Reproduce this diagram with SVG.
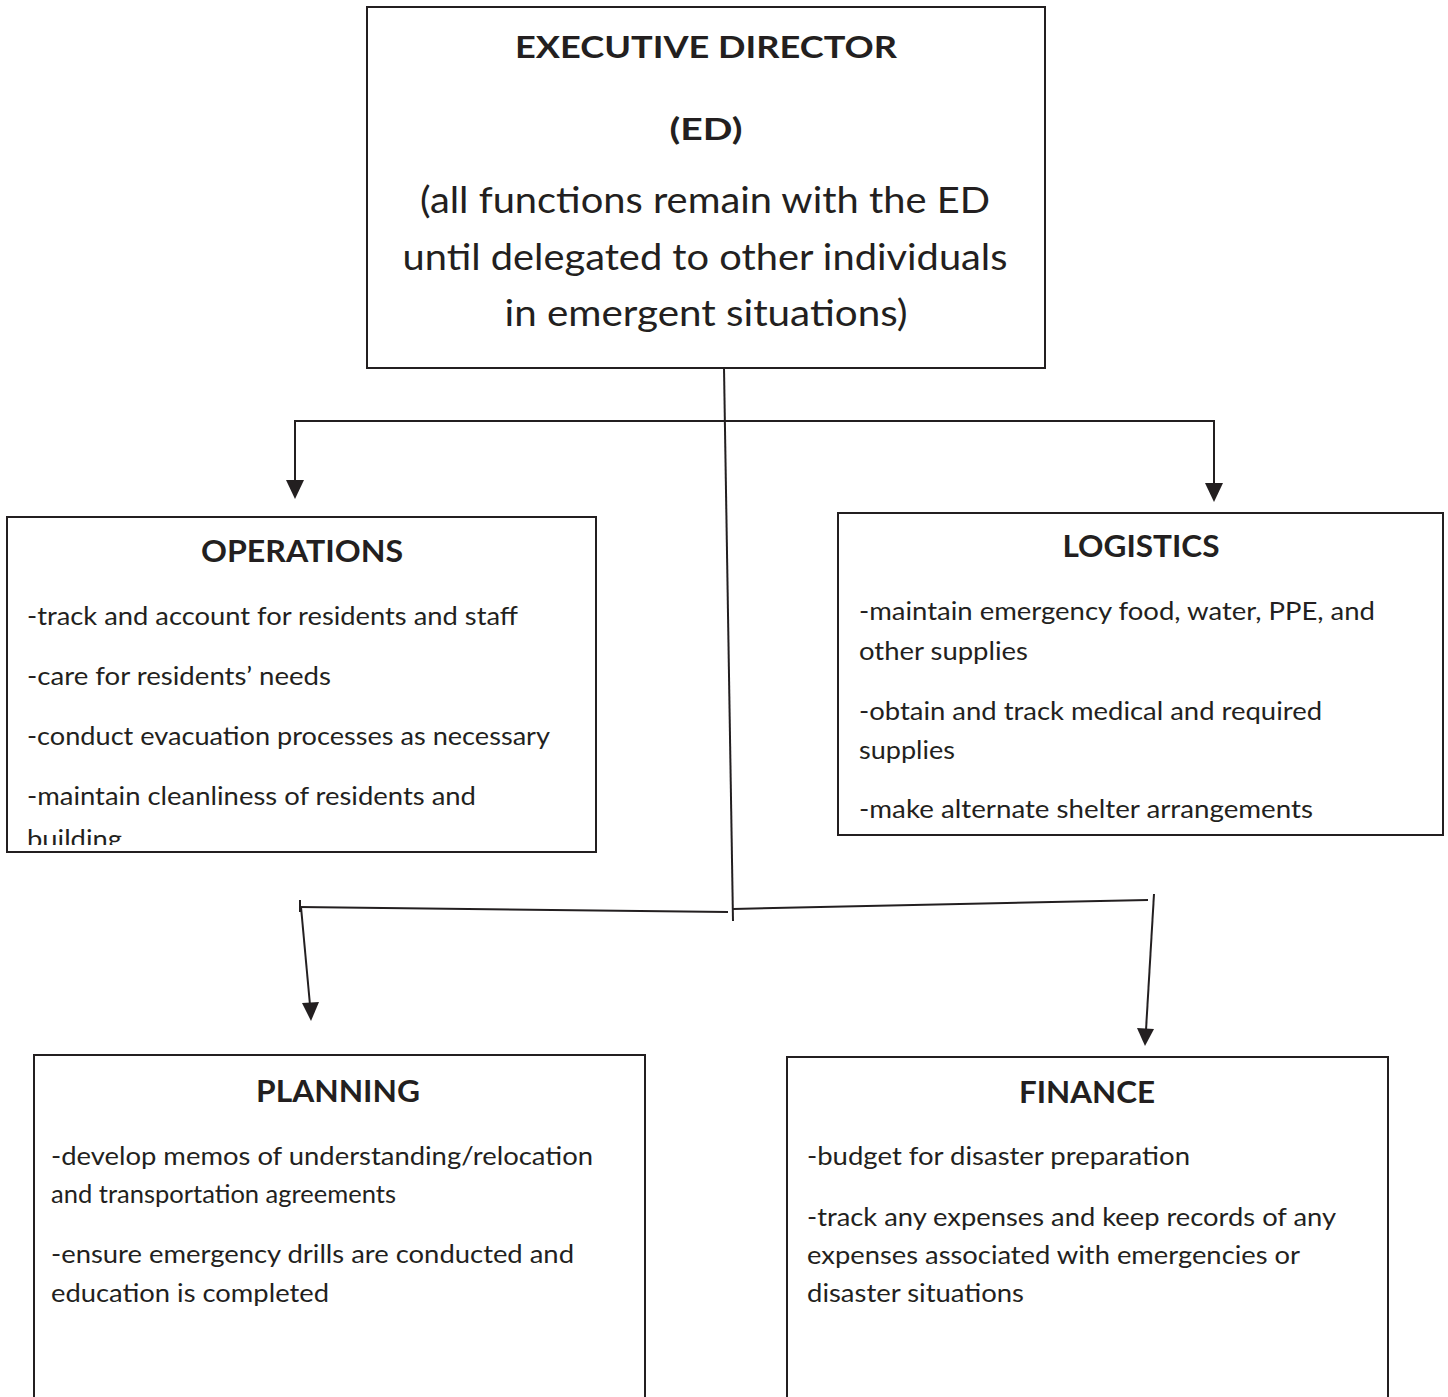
<svg xmlns="http://www.w3.org/2000/svg" width="1448" height="1397" viewBox="0 0 1448 1397">
<style>
.box{fill:#fff;stroke:#231f20;stroke-width:2}
.t{font-family:Lato,"Open Sans","Liberation Sans",sans-serif;fill:#231f20}
.h{font-weight:bold;font-size:30px;text-anchor:middle}
.b{font-size:25px}
.e{font-size:36px;text-anchor:middle}
.ln{stroke:#231f20;stroke-width:2;fill:none}
.ah{fill:#231f20}
</style>
<defs>
<clipPath id="opclip"><rect x="0" y="500" width="600" height="345"/></clipPath>
</defs>
<rect width="1448" height="1397" fill="#fff"/>
<g id="connectors">
<line class="ln" x1="724" y1="368" x2="733" y2="921"/>
<polyline class="ln" points="295,485 295,421 1214,421 1214,488"/>
<path class="ah" d="M286,480 L304,480 L295,499 Z"/>
<path class="ah" d="M1205,483 L1223,483 L1214,502 Z"/>
<line class="ln" x1="299" y1="907" x2="728" y2="912"/>
<line class="ln" x1="733" y1="909" x2="1148" y2="900"/>
<line class="ln" x1="300" y1="900" x2="300" y2="912"/>
<line class="ln" x1="301" y1="907" x2="310" y2="1005"/>
<path class="ah" d="M302,1003 L319,1002 L311,1021 Z"/>
<line class="ln" x1="1154" y1="894" x2="1146" y2="1030"/>
<path class="ah" d="M1137,1028 L1154,1029 L1145,1046 Z"/>
</g>
<g id="executive-director">
<rect class="box" x="367" y="7" width="678" height="361"/>
<text class="t h" x="706" y="58" font-size="32" textLength="382" lengthAdjust="spacingAndGlyphs">EXECUTIVE DIRECTOR</text>
<text class="t h" x="706" y="140" textLength="73" lengthAdjust="spacingAndGlyphs">(ED)</text>
<text class="t e" x="705" y="213" textLength="570" lengthAdjust="spacingAndGlyphs">(all functions remain with the ED</text>
<text class="t e" x="705" y="270" textLength="605" lengthAdjust="spacingAndGlyphs">until delegated to other individuals</text>
<text class="t e" x="706" y="326" textLength="403" lengthAdjust="spacingAndGlyphs">in emergent situations)</text>
</g>
<g id="operations">
<rect class="box" x="7" y="517" width="589" height="335"/>
<text class="t h" x="302" y="562" textLength="202" lengthAdjust="spacingAndGlyphs">OPERATIONS</text>
<text class="t b" x="27" y="625" textLength="491" lengthAdjust="spacingAndGlyphs">-track and account for residents and staff</text>
<text class="t b" x="27" y="685" textLength="304" lengthAdjust="spacingAndGlyphs">-care for residents’ needs</text>
<text class="t b" x="27" y="745" textLength="523" lengthAdjust="spacingAndGlyphs">-conduct evacuation processes as necessary</text>
<text class="t b" x="27" y="805" textLength="449" lengthAdjust="spacingAndGlyphs">-maintain cleanliness of residents and</text>
<text class="t b" x="27" y="848" textLength="95" lengthAdjust="spacingAndGlyphs" clip-path="url(#opclip)">building</text>
</g>
<g id="logistics">
<rect class="box" x="838" y="513" width="605" height="322"/>
<text class="t h" x="1141" y="557" textLength="157" lengthAdjust="spacingAndGlyphs">LOGISTICS</text>
<text class="t b" x="859" y="620" textLength="516" lengthAdjust="spacingAndGlyphs">-maintain emergency food, water, PPE, and</text>
<text class="t b" x="859" y="660" textLength="169" lengthAdjust="spacingAndGlyphs">other supplies</text>
<text class="t b" x="859" y="720" textLength="463" lengthAdjust="spacingAndGlyphs">-obtain and track medical and required</text>
<text class="t b" x="859" y="759" textLength="96" lengthAdjust="spacingAndGlyphs">supplies</text>
<text class="t b" x="859" y="818" textLength="454" lengthAdjust="spacingAndGlyphs">-make alternate shelter arrangements</text>
</g>
<g id="planning">
<rect class="box" x="34" y="1055" width="611" height="360"/>
<text class="t h" x="338" y="1102" textLength="164" lengthAdjust="spacingAndGlyphs">PLANNING</text>
<text class="t b" x="51" y="1165" textLength="542" lengthAdjust="spacingAndGlyphs">-develop memos of understanding/relocation</text>
<text class="t b" x="51" y="1203" textLength="345" lengthAdjust="spacingAndGlyphs">and transportation agreements</text>
<text class="t b" x="51" y="1263" textLength="523" lengthAdjust="spacingAndGlyphs">-ensure emergency drills are conducted and</text>
<text class="t b" x="51" y="1302" textLength="278" lengthAdjust="spacingAndGlyphs">education is completed</text>
</g>
<g id="finance">
<rect class="box" x="787" y="1057" width="601" height="360"/>
<text class="t h" x="1087" y="1103" textLength="136" lengthAdjust="spacingAndGlyphs">FINANCE</text>
<text class="t b" x="807" y="1165" textLength="383" lengthAdjust="spacingAndGlyphs">-budget for disaster preparation</text>
<text class="t b" x="807" y="1226" textLength="529" lengthAdjust="spacingAndGlyphs">-track any expenses and keep records of any</text>
<text class="t b" x="807" y="1264" textLength="493" lengthAdjust="spacingAndGlyphs">expenses associated with emergencies or</text>
<text class="t b" x="807" y="1302" textLength="217" lengthAdjust="spacingAndGlyphs">disaster situations</text>
</g>
</svg>
